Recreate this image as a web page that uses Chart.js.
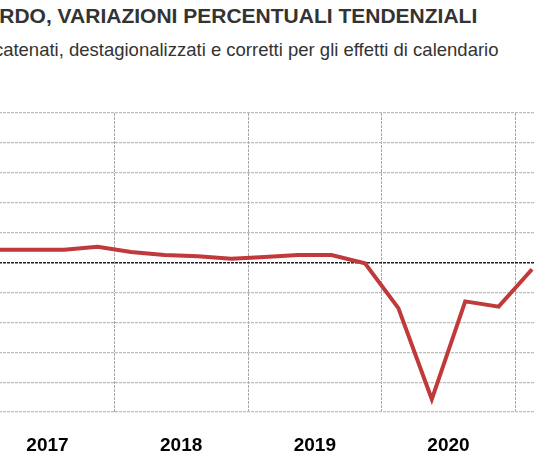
<!DOCTYPE html>
<html><head><meta charset="utf-8">
<script src="https://cdn.jsdelivr.net/npm/chart.js@4"></script>
<style>
body{margin:0;width:534px;height:462px;overflow:hidden;position:relative;background:#fff;font-family:"Liberation Sans",Arial,sans-serif}
#t{position:absolute;left:-68px;top:4px;white-space:nowrap;font-weight:bold;font-size:21px;color:#333}
#s{position:absolute;left:-87px;top:39px;white-space:nowrap;font-size:18.5px;color:#333}
#w{position:absolute;left:-153px;top:103px;width:802px;height:349px}
</style></head><body>
<div id="t">PIL LORDO, VARIAZIONI PERCENTUALI TENDENZIALI</div>
<div id="s">Valori concatenati, destagionalizzati e corretti per gli effetti di calendario</div>
<div id="w"><canvas id="c"></canvas></div>
<script>
const quarters=["2017 T1","2017 T2","2017 T3","2017 T4","2018 T1","2018 T2","2018 T3","2018 T4","2019 T1","2019 T2","2019 T3","2019 T4","2020 T1","2020 T2","2020 T3","2020 T4","2021 T1"];
const growth=[1.7,1.7,1.7,2.1,1.4,1.0,0.85,0.5,0.75,1.0,1.0,-0.1,-6.1,-18.3,-5.2,-5.9,-0.9];
const years=["2016","2017","2018","2019","2020","2021"];
function qx(l){const[y,q]=l.split(" T");return +y+(+q-0.5)/4;}
new Chart(document.getElementById('c'),{
type:'line',
data:{datasets:[{data:quarters.map((q,i)=>({x:qx(q),y:growth[i]})),borderColor:'#c0393b',borderWidth:4,pointRadius:0,tension:0,xAxisID:'x'}]},
options:{responsive:true,maintainAspectRatio:false,animation:false,
layout:{padding:{top:10,left:0,right:0,bottom:0}},
plugins:{legend:{display:false},tooltip:{enabled:false}},
scales:{
x:{type:'linear',min:2016,max:2022,ticks:{display:false,stepSize:1},border:{display:false,dash:[3,1]},
 grid:{color:'#a8a8a8',lineWidth:1,drawTicks:false},afterFit:s=>{s.height=0;}},
yr:{type:'category',labels:years,offset:true,position:'bottom',grid:{display:false},border:{display:false},
 ticks:{color:'#000',font:{family:'Liberation Sans',weight:'bold',size:19},padding:14},afterFit:s=>{s.height=40;}},
y:{min:-20,max:20,ticks:{display:false,stepSize:4},border:{display:false,dash:[3,1]},
 grid:{drawTicks:false,color:c=>c.tick.value===0?'#222':'#bdbdbd',lineWidth:c=>c.tick.value===0?1.5:1.2},afterFit:s=>{s.width=0;}}
}}
});
</script></body></html>
